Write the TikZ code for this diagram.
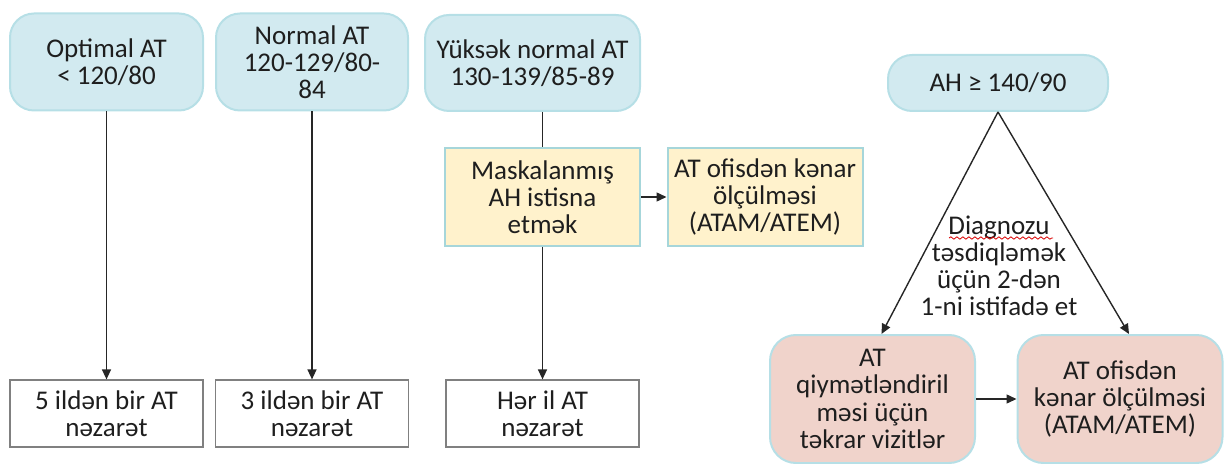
\documentclass[tikz,border=0pt]{standalone}
\usepackage{fontspec}
\setmainfont{Carlito}
\usetikzlibrary{arrows.meta,decorations.pathmorphing}
\definecolor{bluefill}{HTML}{D2EAF0}
\definecolor{blueline}{HTML}{B6DFE6}
\definecolor{yelfill}{HTML}{FFF2CC}
\definecolor{yelline}{HTML}{A6D6DA}
\definecolor{redfill}{HTML}{F0D3CB}
\definecolor{txt}{HTML}{1E1E1E}
\begin{document}
\begin{tikzpicture}[x=0.5pt,y=-0.5pt,
  font=\fontsize{13.5}{13.6}\selectfont, text=txt,
  base/.style={inner sep=0pt, align=center},
  bluebox/.style={base, rounded corners=12pt, fill=bluefill, draw=blueline, line width=1pt},
  yelbox/.style={base, fill=yelfill, draw=yelline, line width=1pt, minimum width=97.5pt, minimum height=49pt},
  redbox/.style={base, rounded corners=13pt, fill=redfill, draw=blueline, line width=1pt, minimum width=102.5pt, minimum height=64pt},
  whitebox/.style={base, fill=white, draw=black!50, line width=0.6pt, minimum width=96.5pt, minimum height=33.5pt},
  conn/.style={draw=black!85, line width=0.7pt},
  arr/.style={conn, -{Triangle[length=5pt,width=4.5pt]}}]
\useasboundingbox (0,0) rectangle (1224,464);
% top row
\node[bluebox, minimum width=96.5pt, minimum height=48.5pt] (opt) at (106.5,62) {Optimal AT\\< 120/80};
\node[bluebox, minimum width=96pt, minimum height=48.5pt] (norm) at (312,62) {Normal AT\\120-129/80-\\84};
\node[bluebox, minimum width=107.5pt, minimum height=48pt] (yuk) at (532.5,63) {Yüksək normal AT\\130-139/85-89};
\node[yelbox] (mask) at (542.5,197) {Maskalanmış\\AH istisna\\etmək};
\node[yelbox] (atam1) at (765,197) {AT ofisdən kənar\\ölçülməsi\\(ATAM/ATEM)};
% bottom row
\node[whitebox] (b1) at (106.5,413.5) {5 ildən bir AT\\nəzarət};
\node[whitebox] (b2) at (312,413.5) {3 ildən bir AT\\nəzarət};
\node[whitebox] (b3) at (542.5,413.5) {Hər il AT\\nəzarət};
% right part
\node[bluebox, minimum width=110pt, minimum height=28pt] (ah) at (998,83) {AH ≥ 140/90};
\node[redbox] (rep) at (872.5,399) {AT\\qiymətləndiril\\məsi üçün\\təkrar vizitlər};
\node[redbox] (atam2) at (1120,399) {AT ofisdən\\kənar ölçülməsi\\(ATAM/ATEM)};
\node[base] (lbl) at (999,266) {Diagnozu\\təsdiqləmək\\üçün 2-dən\\1-ni istifadə et};
\coordinate (sq1) at (949,238);
\coordinate (sq2) at (1053,238);
\draw[red!85!black, line width=0.4pt, decorate, decoration={snake, amplitude=0.6pt, segment length=3pt}] (sq1) -- (sq2);
% connectors
\draw[arr] (opt) -- (b1);
\draw[arr] (norm) -- (b2);
\draw[conn] (yuk.south -| mask.north) -- (mask.north);
\draw[arr] (mask) -- (b3);
\draw[arr] (mask) -- (atam1);
\draw[arr] (ah.south) -- ([xshift=4.5]rep.north);
\draw[arr] (ah.south) -- ([xshift=4.5]atam2.north);
\draw[arr] (rep) -- (atam2);
\end{tikzpicture}
\end{document}
